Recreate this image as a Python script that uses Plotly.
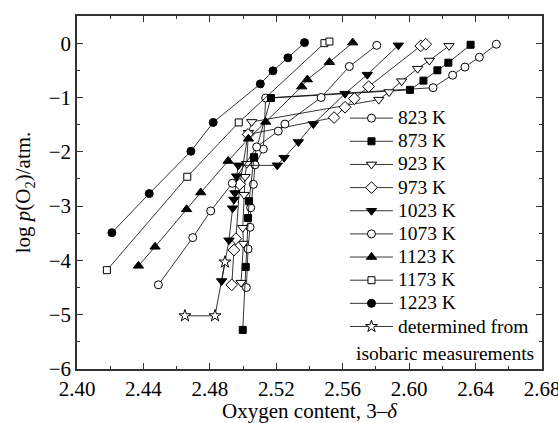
import plotly.graph_objects as go

# ---- data ----
x_823 = [2.502, 2.503, 2.5042, 2.5046, 2.5062, 2.5072, 2.5122, 2.5136, 2.6144, 2.6262, 2.6336, 2.6423, 2.6525]
y_823 = [-4.50, -3.79, -3.39, -3.03, -2.60, -2.24, -1.95, -1.01, -0.82, -0.59, -0.44, -0.26, -0.02]

x_873 = [2.4998, 2.5016, 2.5030, 2.5036, 2.5066, 2.5168, 2.6005, 2.6086, 2.6170, 2.6236, 2.6370]
y_873 = [-5.28, -4.12, -3.22, -2.91, -2.10, -1.01, -0.86, -0.69, -0.50, -0.36, -0.03]

x_923 = [2.4988, 2.5002, 2.4998, 2.5006, 2.5012, 2.5022, 2.5032, 2.5052, 2.5817, 2.5879, 2.5955, 2.6051, 2.6122, 2.6240]
y_923 = [-4.41, -3.69, -3.40, -2.79, -2.46, -2.22, -1.65, -1.45, -1.04, -0.90, -0.70, -0.47, -0.32, -0.05]

x_973 = [2.4932, 2.4945, 2.4957, 2.4980, 2.5030, 2.5548, 2.5614, 2.5670, 2.5756, 2.6070, 2.6100]
y_973 = [-4.45, -3.81, -3.60, -2.60, -1.68, -1.37, -1.18, -1.02, -0.80, -0.05, -0.02]

x_1023 = [2.4871, 2.4915, 2.4937, 2.4945, 2.4951, 2.4961, 2.4971, 2.5206, 2.5247, 2.5333, 2.5423, 2.5614, 2.5748, 2.5935]
y_1023 = [-4.38, -3.63, -3.04, -2.88, -2.76, -2.45, -2.25, -2.25, -2.11, -1.82, -1.49, -0.93, -0.58, -0.04]

x_1073 = [2.4490, 2.4697, 2.4805, 2.4935, 2.5082, 2.5212, 2.5252, 2.5470, 2.5640, 2.5805]
y_1073 = [-4.45, -3.58, -3.09, -2.58, -1.91, -1.62, -1.49, -1.00, -0.43, -0.04]

x_1123 = [2.437, 2.447, 2.466, 2.4745, 2.491, 2.5032, 2.5136, 2.5353, 2.5387, 2.552, 2.566]
y_1123 = [-4.10, -3.75, -3.06, -2.75, -2.17, -1.76, -1.45, -0.80, -0.67, -0.35, 0.01]

x_1173 = [2.418, 2.4664, 2.4974, 2.549, 2.552]
y_1173 = [-4.18, -2.46, -1.46, 0.00, 0.03]

x_1223 = [2.421, 2.4435, 2.4686, 2.482, 2.5104, 2.518, 2.527, 2.537]
y_1223 = [-3.49, -2.77, -1.99, -1.46, -0.75, -0.51, -0.27, 0.01]

x_iso = [2.465, 2.4831, 2.4891]
y_iso = [-5.02, -5.02, -4.03]

x_ticks = [2.40, 2.44, 2.48, 2.52, 2.56, 2.60, 2.64, 2.68]
x_ticktext = ["2.40", "2.44", "2.48", "2.52", "2.56", "2.60", "2.64", "2.68"]
y_ticks = [-6, -5, -4, -3, -2, -1, 0]

series = [
    ("823 K", x_823, y_823, "circle", "white", 8),
    ("873 K", x_873, y_873, "square", "black", 7),
    ("923 K", x_923, y_923, "triangle-down", "white", 9),
    ("973 K", x_973, y_973, "diamond", "white", 9),
    ("1023 K", x_1023, y_1023, "triangle-down", "black", 9),
    ("1073 K", x_1073, y_1073, "circle", "white", 8),
    ("1123 K", x_1123, y_1123, "triangle-up", "black", 9),
    ("1173 K", x_1173, y_1173, "square", "white", 7),
    ("1223 K", x_1223, y_1223, "circle", "black", 8),
    ("determined from", x_iso, y_iso, "star", "white", 9),
]

FONT = "Liberation Serif"
LEG_TXT = 19.5

fig = go.Figure()
for name, xs, ys, sym, fill, size in series:
    fig.add_trace(go.Scatter(
        x=xs, y=ys,
        name='<span style="font-size:%spx">%s</span>' % (LEG_TXT, name),
        mode="lines+markers",
        line=dict(color="black", width=0.8),
        marker=dict(symbol=sym, color=fill, size=size, line=dict(color="black", width=1)),
    ))

fig.update_layout(
    width=558, height=423,
    margin=dict(l=77, r=16, t=16, b=54),
    plot_bgcolor="white", paper_bgcolor="white",
    font=dict(family=FONT, size=21, color="black"),
    showlegend=True,
    legend=dict(x=0.5763, y=0.7576, xanchor="left", yanchor="top",
                font=dict(size=15.5, family=FONT, color="black"),
                bgcolor="rgba(0,0,0,0)", itemwidth=43, tracegroupgap=0),
    annotations=[dict(text="isobaric measurements", xref="paper", yref="paper",
                      x=0.987, y=0.045, xanchor="right", yanchor="middle",
                      showarrow=False, font=dict(size=LEG_TXT, family=FONT, color="black"))],
)

axis_common = dict(
    ticks="inside", ticklen=6, tickwidth=1.2, tickcolor="#333",
    showline=True, linecolor="#333", linewidth=1.5, mirror="allticks",
    showgrid=False, zeroline=False, automargin=False, ticklabeloverflow="allow",
    tickfont=dict(family=FONT, size=21, color="black"),
)

fig.update_xaxes(
    range=[2.40, 2.68], tickvals=x_ticks, ticktext=x_ticktext,
    minor=dict(dtick=0.02, tick0=2.40, ticks="inside", ticklen=3, tickwidth=1.2, tickcolor="#333"),
    title=dict(text="Oxygen content, 3\u2013<i>\u03b4</i>", standoff=15,
               font=dict(family=FONT, size=21, color="black")),
    **axis_common,
)
fig.update_yaxes(
    range=[-6, 0.5], tickvals=y_ticks,
    minor=dict(dtick=0.5, tick0=0, ticks="inside", ticklen=3, tickwidth=1.2, tickcolor="#333"),
    title=dict(text="log <i>p</i>(O<sub>2</sub>)/atm.", standoff=12,
               font=dict(family=FONT, size=21, color="black")),
    **axis_common,
)

fig.write_html("out.html", config={"displayModeBar": False},
               post_script="document.body.style.margin='0px';")
